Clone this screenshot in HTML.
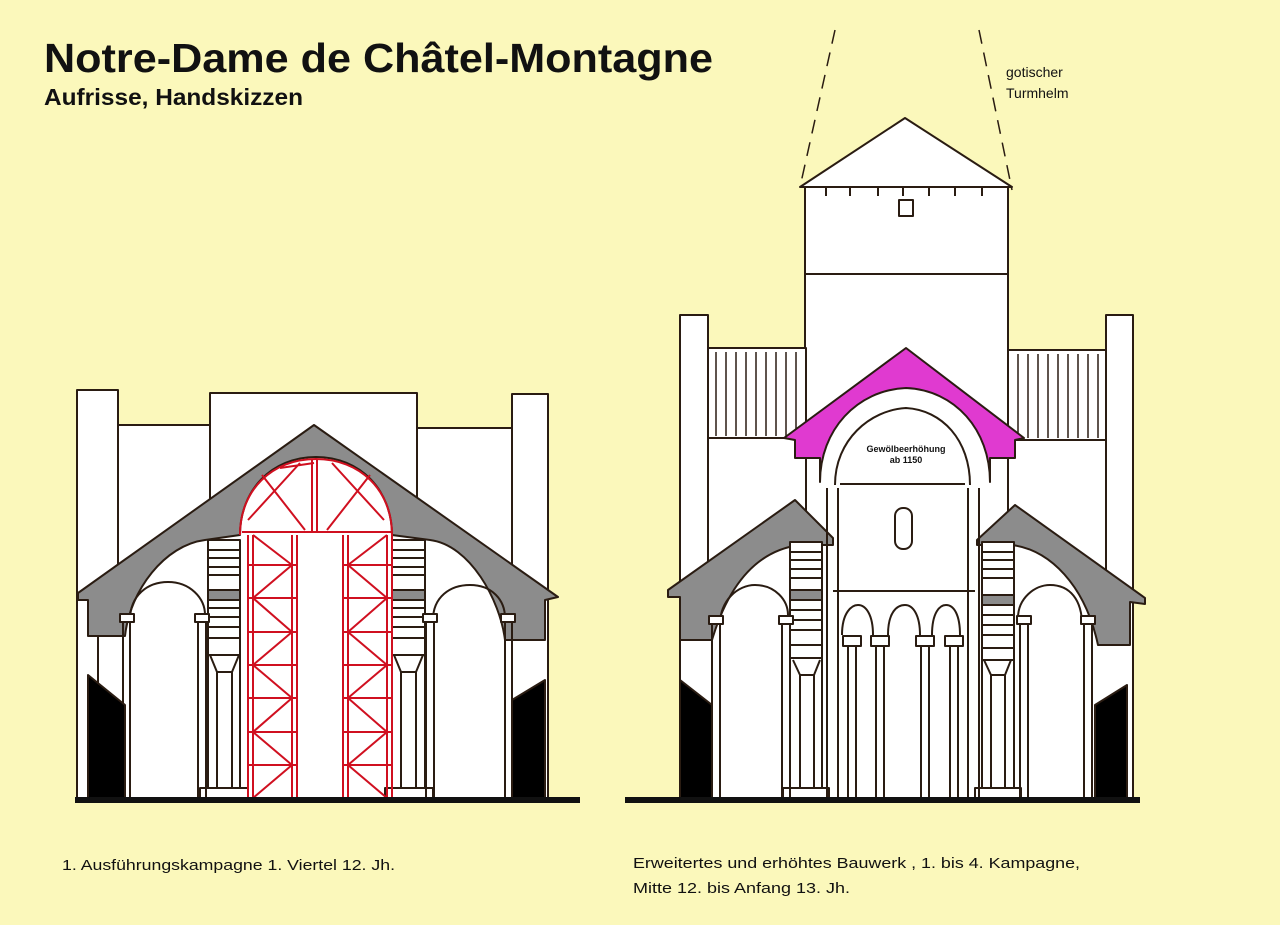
<!DOCTYPE html>
<html><head><meta charset="utf-8"><style>
html,body{margin:0;padding:0;background:#fbf8bb;}
svg{display:block}
text{font-family:"Liberation Sans",sans-serif;fill:#111}
</style></head><body>
<svg width="1280" height="925" viewBox="0 0 1280 925" xmlns="http://www.w3.org/2000/svg">
<rect width="1280" height="925" fill="#fbf8bb"/>
<text x="44" y="72" font-size="41" font-weight="bold" textLength="669" lengthAdjust="spacingAndGlyphs">Notre-Dame de Châtel-Montagne</text>
<text x="44" y="105" font-size="23" font-weight="bold" textLength="259" lengthAdjust="spacingAndGlyphs">Aufrisse, Handskizzen</text>
<text x="62" y="870" font-size="15" textLength="333" lengthAdjust="spacingAndGlyphs">1. Ausführungskampagne 1. Viertel 12. Jh.</text>
<text x="633" y="868" font-size="15" textLength="447" lengthAdjust="spacingAndGlyphs">Erweitertes und erhöhtes Bauwerk , 1. bis  4. Kampagne,</text>
<text x="633" y="893" font-size="15" textLength="217" lengthAdjust="spacingAndGlyphs">Mitte 12. bis Anfang 13. Jh.</text>
<text x="1006" y="77" font-size="14">gotischer</text>
<text x="1006" y="98" font-size="14">Turmhelm</text>

<!-- ============ LEFT DRAWING ============ -->
<g stroke="#2a1c12" stroke-width="2" fill="#fff" stroke-linejoin="round">
<rect x="77" y="390" width="41" height="408"/>
<rect x="118" y="425" width="95" height="373"/>
<rect x="210" y="393" width="207" height="405"/>
<rect x="417" y="428" width="95" height="370"/>
<rect x="512" y="394" width="36" height="404"/>
<rect x="88" y="600" width="452" height="198" stroke="none"/>
<path d="M78,593 L314,425 L558,597 L545,600 L545,640 L505,640 C500,600 470,545 430,540 L392,535 C392,490 360,457 316,457 C272,457 240,490 240,535 L205,540 C165,545 130,590 125,636 L88,636 L88,600 L78,600 Z" fill="#8c8c8c"/>
<path d="M130,620 C130,595 148,582 168,582 C190,582 205,598 205,615" fill="none"/>
<path d="M433,620 C433,597 450,585 470,585 C492,585 505,600 505,618" fill="none"/>
<rect x="208" y="540" width="32" height="250"/>
<rect x="392" y="540" width="33" height="250"/>
<rect x="208" y="590" width="32" height="10" fill="#8c8c8c"/>
<rect x="392" y="590" width="33" height="10" fill="#8c8c8c"/>
<path d="M208,550h32M208,558h32M208,567h32M208,575h32M208,608h32M208,617h32M208,627h32M208,638h32M208,655h32M392,550h33M392,558h33M392,567h33M392,575h33M392,608h33M392,617h33M392,627h33M392,638h33M392,655h33" fill="none"/>
<path d="M210,655 L217,672 L232,672 L239,655 M217,672V790 M232,672V790 M394,655 L401,672 L416,672 L423,655 M401,672V790 M416,672V790" fill="none"/>
<rect x="200" y="788" width="48" height="10"/>
<rect x="385" y="788" width="48" height="10"/>
<path d="M123,620V798 M130,620V798 M198,620V798 M206,620V798 M426,620V798 M434,620V798 M505,620V798 M512,620V798 M98,636V798" fill="none"/>
<rect x="120" y="614" width="14" height="8"/><rect x="195" y="614" width="14" height="8"/>
<rect x="423" y="614" width="14" height="8"/><rect x="501" y="614" width="14" height="8"/>
<path d="M88,675 L125,705 L125,798 L88,798 Z" fill="#000"/>
<path d="M545,680 L512,700 L512,798 L545,798 Z" fill="#000"/>
</g>
<g stroke="#d01020" stroke-width="2" fill="none">
<path d="M240,535 C240,490 272,459 316,459 C360,459 392,490 392,535"/>
<path d="M242,532H392 M312,460V532 M317,460V532 M262,475 L305,530 M300,463 L248,520 M370,475 L327,530 M332,463 L384,520 M280,468 L314,463"/>
<path d="M248,535V798 M253,535V798 M292,535V798 M297,535V798 M343,535V798 M348,535V798 M387,535V798 M392,535V798"/>
<path d="M248,565h49M248,598h49M248,632h49M248,665h49M248,698h49M248,732h49M248,765h49 M343,565h49M343,598h49M343,632h49M343,665h49M343,698h49M343,732h49M343,765h49"/>
<path d="M253,535 L292,565 L253,598 L292,632 L253,665 L292,698 L253,732 L292,765 L253,798"/>
<path d="M387,535 L348,565 L387,598 L348,632 L387,665 L348,698 L387,732 L348,765 L387,798"/>
</g>
<rect x="75" y="797" width="505" height="6" fill="#111"/>

<!-- ============ RIGHT DRAWING ============ -->
<g stroke="#2a1c12" stroke-width="1.5" fill="none" stroke-dasharray="14,9">
<path d="M835,30 L800,187"/><path d="M979,30 L1012,190"/>
</g>
<g stroke="#2a1c12" stroke-width="2" fill="#fff" stroke-linejoin="round">
<rect x="805" y="187" width="203" height="611"/>
<path d="M800,187 L905,118 L1012,187 Z"/>
<path d="M805,274H1008" fill="none"/>
<rect x="899" y="200" width="14" height="16"/>
<path d="M826,187v9M850,187v9M878,187v9M903,187v9M929,187v9M955,187v9M982,187v9" fill="none"/>
<rect x="680" y="315" width="28" height="483"/>
<rect x="1106" y="315" width="27" height="483"/>
<rect x="708" y="348" width="98" height="450"/>
<rect x="1008" y="350" width="98" height="448"/>
<path d="M708,438H806 M1008,440H1106" fill="none"/>
<path d="M716,352V436M726,352V436M736,352V436M746,352V436M756,352V436M766,352V436M776,352V436M786,352V436M796,352V436 M1018,354V438M1028,354V438M1038,354V438M1048,354V438M1058,354V438M1068,354V438M1078,354V438M1088,354V438M1098,354V438" fill="none" stroke-width="1.5"/>
<rect x="683" y="600" width="445" height="198" stroke="none"/>
<path d="M906,348 L1024,438 L1015,440 L1015,458 L990,458 L990,482 C990,430 955,390 906,388 C857,390 820,430 820,482 L820,458 L795,458 L795,440 L784,438 Z" fill="#e03ad0"/>
<path d="M835,485 C835,440 870,410 906,408 C942,410 970,440 970,485" fill="none"/>
<path d="M840,484H965" fill="none"/>
<rect x="895" y="508" width="17" height="41" rx="8"/>
<path d="M668,590 L795,500 L833,538 L833,545 L800,545 C760,550 730,580 712,640 L680,640 L680,597 L668,597 Z" fill="#8c8c8c"/>
<path d="M1145,598 L1015,505 L977,540 L977,545 L1012,545 C1050,550 1085,585 1098,645 L1130,645 L1130,602 L1145,604 Z" fill="#8c8c8c"/>
<path d="M720,625 C720,600 738,585 755,585 C775,585 788,600 788,615" fill="none"/>
<path d="M1018,618 C1018,598 1035,585 1050,585 C1070,585 1082,600 1082,625" fill="none"/>
<rect x="790" y="542" width="32" height="248"/>
<rect x="982" y="542" width="32" height="248"/>
<rect x="790" y="590" width="32" height="10" fill="#8c8c8c"/>
<rect x="982" y="595" width="32" height="10" fill="#8c8c8c"/>
<path d="M790,552h32M790,560h32M790,569h32M790,578h32M790,610h32M790,620h32M790,630h32M790,645h32M790,658h32 M982,552h32M982,560h32M982,569h32M982,578h32M982,615h32M982,625h32M982,635h32M982,648h32M982,660h32" fill="none"/>
<path d="M793,660 L800,675 L814,675 L820,660 M800,675V790 M814,675V790 M984,660 L991,675 L1005,675 L1011,660 M991,675V790 M1005,675V790" fill="none"/>
<rect x="783" y="788" width="46" height="10"/><rect x="975" y="788" width="46" height="10"/>
<path d="M827,488V798 M838,488V798 M968,488V798 M979,488V798" fill="none"/>
<path d="M833,591H975" fill="none"/>
<path d="M842,635 C842,612 852,605 858,605 C866,605 873,615 873,635 M888,635 C888,612 897,605 905,605 C913,605 920,615 920,635 M932,635 C932,612 940,605 946,605 C954,605 960,615 960,635" fill="none"/>
<path d="M848,645V798 M856,645V798 M876,645V798 M884,645V798 M921,645V798 M929,645V798 M950,645V798 M958,645V798" fill="none"/>
<rect x="843" y="636" width="18" height="10"/><rect x="871" y="636" width="18" height="10"/>
<rect x="916" y="636" width="18" height="10"/><rect x="945" y="636" width="18" height="10"/>
<path d="M712,622V798 M720,622V798 M782,622V798 M790,622V798 M1020,622V798 M1028,622V798 M1084,622V798 M1092,622V798" fill="none"/>
<rect x="709" y="616" width="14" height="8"/><rect x="779" y="616" width="14" height="8"/>
<rect x="1017" y="616" width="14" height="8"/><rect x="1081" y="616" width="14" height="8"/>
<path d="M680,680 L712,705 L712,798 L680,798 Z" fill="#000"/>
<path d="M1127,685 L1095,705 L1095,798 L1127,798 Z" fill="#000"/>
</g>
<text x="906" y="452" font-size="9" text-anchor="middle" font-weight="bold">Gewölbeerhöhung</text>
<text x="906" y="463" font-size="9" text-anchor="middle" font-weight="bold">ab 1150</text>
<rect x="625" y="797" width="515" height="6" fill="#111"/>
</svg>
</body></html>
